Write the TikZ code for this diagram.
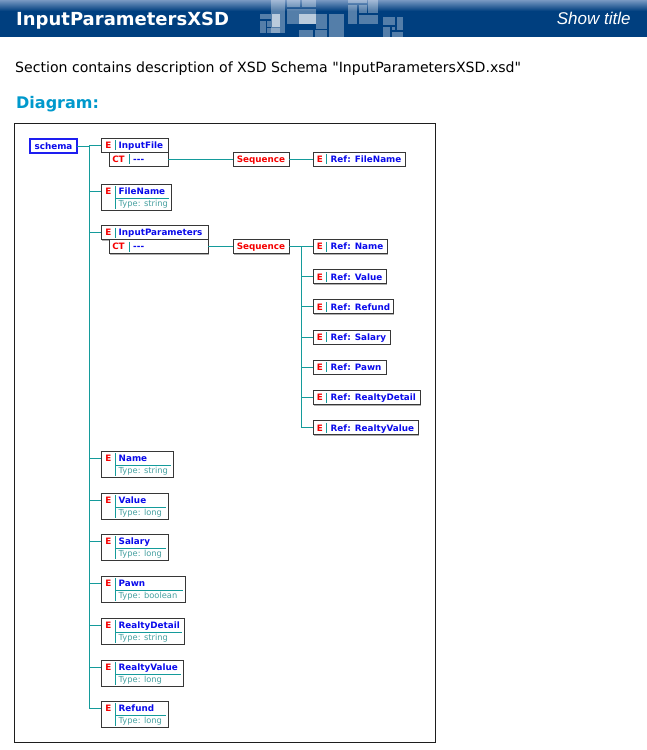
\documentclass[tikz,border=0pt]{standalone}
\usepackage{fontspec}
\setmainfont{DejaVu Sans}[Ligatures=TeXOff]
\newfontfamily\libsans{Liberation Sans}
\usetikzlibrary{shadows}
\definecolor{hdr}{RGB}{0,63,127}
\definecolor{hdrtop}{RGB}{120,152,194}
\definecolor{diagc}{RGB}{0,153,204}
\definecolor{tealc}{RGB}{20,155,155}
\definecolor{typec}{RGB}{70,160,160}
\definecolor{bluet}{RGB}{10,10,235}
\definecolor{redt}{RGB}{245,0,0}
\definecolor{bordc}{RGB}{55,55,55}
\definecolor{shadc}{RGB}{175,175,175}
\definecolor{framec}{RGB}{30,30,30}
\definecolor{schemab}{RGB}{30,30,240}
\tikzset{
  box/.style={draw=bordc, fill=white, line width=1pt, inner sep=0pt, outer sep=0pt, rectangle,
    general shadow={fill=shadc, shadow xshift=1pt, shadow yshift=-1pt}},
  schemabox/.style={draw=schemab, fill=white, line width=1.6pt, inner sep=0pt, outer sep=0pt, rectangle,
    text=bluet, font=\bfseries\fontsize{8.8}{10}\selectfont, text height=6.4pt, text depth=0pt},
  seqbox/.style={box, text=redt, font=\bfseries\fontsize{8.8}{10}\selectfont, text height=6.4pt, text depth=0pt},
  etxt/.style={inner sep=0pt, text=redt, font=\bfseries\fontsize{8.8}{10}\selectfont},
  ntxt/.style={inner sep=0pt, text=bluet, font=\bfseries\fontsize{8.8}{10}\selectfont},
  ttxt/.style={inner sep=0pt, text=typec, font=\fontsize{8.3}{10}\selectfont},
  divl/.style={draw=tealc, line width=1pt},
  conn/.style={draw=tealc, line width=1pt},
  blk/.style={fill=white, fill opacity=0.33},
  blkb/.style={fill=white, fill opacity=0.6},
}
% typed element: name, left, top, right, label, type
\newcommand\typedel[6]{%
  \node[box, anchor=north west, minimum width={#4pt-#2pt}, minimum height=26pt] (#1) at (#2,#3) {};
  \coordinate (#1-in) at (#2,{#3+7});
  \node[etxt, anchor=base] (#1-e) at ({#2+7.5},{#3+10.3}) {E};
  \draw[divl] ({#2+14},{#3+2}) -- ({#2+14},{#3+25});
  \draw[divl] ({#2+14},{#3+14}) -- ({#4-2},{#3+14});
  \node[ntxt, anchor=base west] (#1-n) at ({#2+17.5},{#3+10.3}) {#5};
  \node[ttxt, anchor=base west] (#1-t) at ({#2+17.5},{#3+22.5}) {Type: #6};
}
% complex-type element: name, left, top, right, label
\newcommand\ctel[5]{%
  \node[box, anchor=north west, minimum width={#4pt-#2pt}, minimum height=14pt] (#1) at (#2,#3) {};
  \coordinate (#1-in) at (#2,{#3+7});
  \node[etxt, anchor=base] (#1-e) at ({#2+7.5},{#3+10.3}) {E};
  \draw[divl] ({#2+14},{#3+2}) -- ({#2+14},{#3+12});
  \node[ntxt, anchor=base west] (#1-n) at ({#2+17.5},{#3+10.3}) {#5};
  \node[box, anchor=north west, minimum width={#4pt-#2pt-8pt}, minimum height=14pt] (#1-ct) at ({#2+8},{#3+14}) {};
  \node[etxt, anchor=base] (#1-c) at ({#2+17.5},{#3+24.3}) {CT};
  \draw[divl] ({#2+28},{#3+16}) -- ({#2+28},{#3+26});
  \node[ntxt, anchor=base west] (#1-d) at ({#2+32},{#3+24.3}) {---};
}
% reference element: name, left, top, right, label
\newcommand\refel[5]{%
  \node[box, anchor=north west, minimum width={#4pt-#2pt}, minimum height=14pt] (#1) at (#2,#3) {};
  \node[etxt, anchor=base] (#1-e) at ({#2+7},{#3+10.3}) {E};
  \draw[divl] ({#2+13.5},{#3+2}) -- ({#2+13.5},{#3+12});
  \node[ntxt, anchor=base west] (#1-n) at ({#2+17.5},{#3+10.3}) {Ref: #5};
}
\begin{document}
\begin{tikzpicture}[x=1pt,y=-1pt]
\useasboundingbox (0,0) rectangle (647,750);
\fill[white] (0,0) rectangle (647,750);
% header
\fill[hdr] (0,0) rectangle (647,37.3);
\shade[top color=hdrtop, bottom color=hdr] (0,0) rectangle (647,11);
% decorative blocks
\fill[blk] (270.7,0) rectangle (285,33.3);
\fill[blk] (286.7,0) rectangle (300,7.3);
\fill[blk] (301.7,0) rectangle (315.7,7.3);
\fill[blk] (286.7,9.3) rectangle (315.7,24);
\fill[blkb] (299.3,14) rectangle (315.7,24);
\fill[blk] (315.7,14) rectangle (327.3,29.3);
\fill[blk] (299.3,30) rectangle (313.3,37.3);
\fill[blk] (315,30) rectangle (327.3,37.3);
\fill[blk] (329.3,14) rectangle (344,37.3);
\fill[blkb] (271.7,14) rectangle (280,26.7);
\fill[blk] (260,14) rectangle (270.7,19.3);
\fill[blk] (260,20.7) rectangle (266,33.3);
\fill[blk] (267,20.7) rectangle (270.7,26.7);
\fill[blk] (267,28) rectangle (280,33.3);
\fill[blk] (348.3,0) rectangle (367.3,3.3);
\fill[blk] (368.3,0) rectangle (378.3,13.3);
\fill[blk] (348.3,5) rectangle (357.3,24);
\fill[blk] (359,5) rectangle (367.3,13.3);
\fill[blk] (359,15) rectangle (378.3,24);
\fill[blk] (383.3,17.3) rectangle (395,25);
\fill[blk] (396.7,17.3) rectangle (403.3,30);
\fill[blk] (383.3,26.7) rectangle (390,36.7);
\fill[blk] (391.7,31.7) rectangle (403.3,36.7);
\fill[blk] (391.7,26.7) rectangle (395,30);
\node[anchor=base west, inner sep=0pt, text=white, font=\bfseries\fontsize{18}{20}\selectfont] (title) at (16,25.3) {InputParametersXSD};
\node[anchor=base east, inner sep=0pt, text=white, font=\libsans\itshape\fontsize{17}{20}\selectfont] (showt) at (630.7,24) {Show title};
\node[anchor=base west, inner sep=0pt, text=black, font=\fontsize{14.1}{16}\selectfont] (sect) at (15,72.3) {Section contains description of XSD Schema "InputParametersXSD.xsd"};
\node[anchor=base west, inner sep=0pt, text=diagc, font=\bfseries\fontsize{16}{18}\selectfont] (diag) at (16,108.3) {Diagram:};
% frame
\draw[framec, line width=1pt] (14.5,123.5) rectangle (435.5,742.5);
% schema
\node[schemabox, minimum width=47pt, minimum height=14pt] (schema) at (53.5,146) {schema};
% elements
\ctel{ifile}{101}{138}{168}{InputFile}
\typedel{fn}{101}{184}{171}{FileName}{string}
\ctel{ipar}{101}{225.5}{208}{InputParameters}
\typedel{nm}{101}{451}{173}{Name}{string}
\typedel{vl}{101}{493}{168}{Value}{long}
\typedel{sl}{101}{534}{168}{Salary}{long}
\typedel{pw}{101}{576}{185}{Pawn}{boolean}
\typedel{rd}{101}{618}{184}{RealtyDetail}{string}
\typedel{rv}{101}{660}{183}{RealtyValue}{long}
\typedel{rf}{101}{701}{168}{Refund}{long}
% sequences
\node[seqbox, minimum width=56pt, minimum height=14pt] (seq1) at (261,159) {Sequence};
\node[seqbox, minimum width=56pt, minimum height=14pt] (seq2) at (261,246.5) {Sequence};
% references
\refel{rfn}{313}{152}{405}{FileName}
\refel{r1}{313}{239.5}{387}{Name}
\refel{r2}{313}{269.7}{386}{Value}
\refel{r3}{313}{299.9}{393}{Refund}
\refel{r4}{313}{330.1}{390}{Salary}
\refel{r5}{313}{360.3}{386}{Pawn}
\refel{r6}{313}{390.5}{420}{RealtyDetail}
\refel{r7}{313}{420.7}{418}{RealtyValue}
% connectors
\coordinate (trk) at (89,146);
\draw[conn] (schema.east) -- (trk);
\draw[conn] (trk) |- (rf-in);
\foreach \n in {ifile,fn,ipar,nm,vl,sl,pw,rd,rv} \draw[conn] (trk |- \n-in) -- (\n-in);
\draw[conn] (ifile-ct.east) -- (seq1.west);
\draw[conn] (seq1.east) -- (rfn.west);
\draw[conn] (ipar-ct.east) -- (seq2.west);
\draw[conn] (seq2.east) -- (r1.west);
\coordinate (trk2) at (301,246.5);
\draw[conn] (trk2) |- (r7.west);
\foreach \r in {r2,r3,r4,r5,r6} \draw[conn] (trk2 |- \r.west) -- (\r.west);
\end{tikzpicture}
\end{document}
